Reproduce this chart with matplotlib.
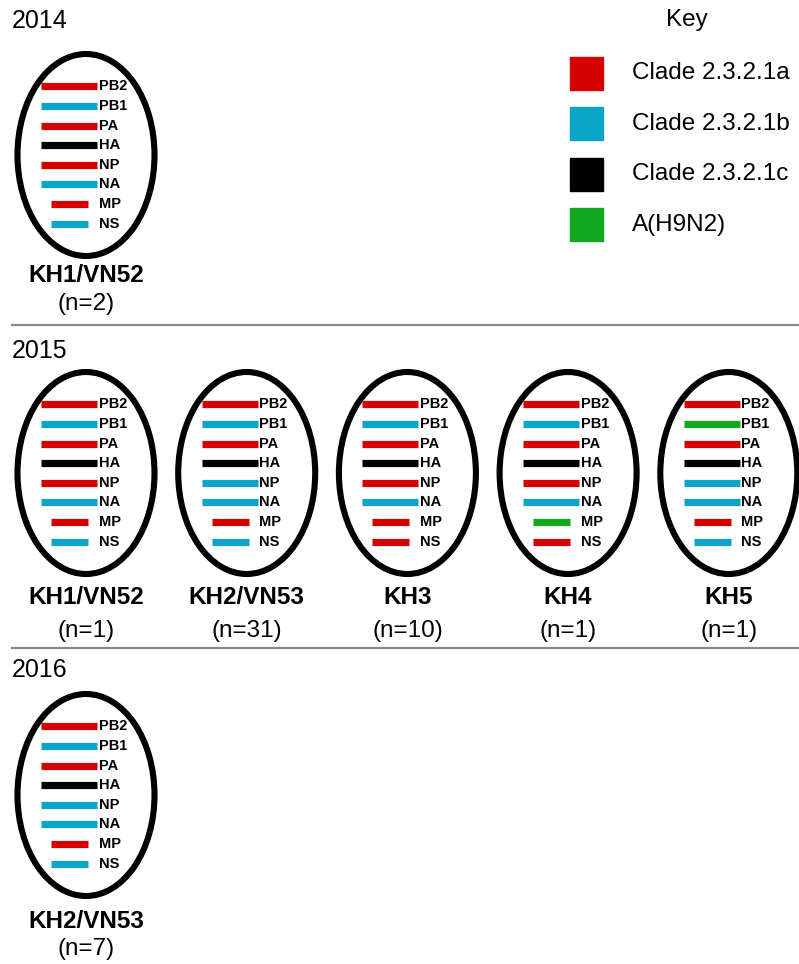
import matplotlib
matplotlib.use("Agg")
from matplotlib import pyplot as plt
from matplotlib.patches import Ellipse, Rectangle

plt.rcParams["font.family"] = ["Liberation Sans", "DejaVu Sans"]

# gene segments, top to bottom
segments = ["PB2", "PB1", "PA", "HA", "NP", "NA", "MP", "NS"]

# key
clade_codes = ["a", "b", "c", "h"]
clade_labels = ["Clade 2.3.2.1a", "Clade 2.3.2.1b", "Clade 2.3.2.1c", "A(H9N2)"]
clade_colors = {"a": "#d40000", "b": "#0aa4c8", "c": "#000000", "h": "#12a81e"}

years = ["2014", "2015", "2016"]

# one entry per genotype
geno_year = [0, 1, 1, 1, 1, 1, 2]
geno_col = [0, 0, 1, 2, 3, 4, 0]
geno_names = ["KH1/VN52", "KH1/VN52", "KH2/VN53", "KH3", "KH4", "KH5", "KH2/VN53"]
geno_n = [2, 1, 31, 10, 1, 1, 7]
geno_origin = [
    "abacabab",
    "abacabab",
    "abacbbab",
    "abacabaa",
    "abacabha",
    "ahacbbab",
    "abacbbab",
]

# layout (pixels)
row_y = [155, 473, 795]
name_y = [275, 598, 922]
n_y = [304, 631, 949]
year_y = [21, 351, 670]
sep_y = [325, 648]
col_x0, col_dx = 86, 160.7
seg_dy = 19.6

fig = plt.figure(figsize=(7.99, 9.64), dpi=100)
ax = fig.add_axes([0, 0, 1, 1])
ax.set_xlim(0, 799)
ax.set_ylim(964, 0)
ax.axis("off")

for yl, yy in zip(years, year_y):
    ax.text(12, yy, yl, fontsize=18, ha="left", va="center")

for yy in sep_y:
    ax.plot([12, 799], [yy, yy], color="#8a8a8a", lw=1.6)

for yi, col, name, n, origin in zip(geno_year, geno_col, geno_names, geno_n, geno_origin):
    cx = col_x0 + col * col_dx
    cy = row_y[yi]
    ax.add_patch(Ellipse((cx, cy), 137, 202, fill=False, lw=4.4, ec="black"))
    for i, (seg, code) in enumerate(zip(segments, origin)):
        y = cy - 3.5 * seg_dy + i * seg_dy
        if i < 6:
            x0, x1 = cx - 45, cx + 11
        else:
            x0, x1 = cx - 35, cx + 2
        ax.plot([x0, x1], [y, y], color=clade_colors[code], lw=5.2,
                solid_capstyle="butt")
        ax.text(cx + 12.5, y, seg, fontsize=10.5, fontweight="bold",
                ha="left", va="center")
    ax.text(cx, name_y[yi], name, fontsize=17.5, fontweight="bold",
            ha="center", va="center")
    ax.text(cx, n_y[yi], "(n=%d)" % n, fontsize=17.5, ha="center", va="center")

# key
ax.text(687, 20, "Key", fontsize=17.5, ha="center", va="center")
for i, (code, lab) in enumerate(zip(clade_codes, clade_labels)):
    ky = 73 + i * 50.5
    ax.add_patch(Rectangle((570, ky - 16.5), 33, 33, color=clade_colors[code]))
    ax.text(632, ky, lab, fontsize=17.5, ha="left", va="center")

fig.savefig("out.png", dpi=100)
